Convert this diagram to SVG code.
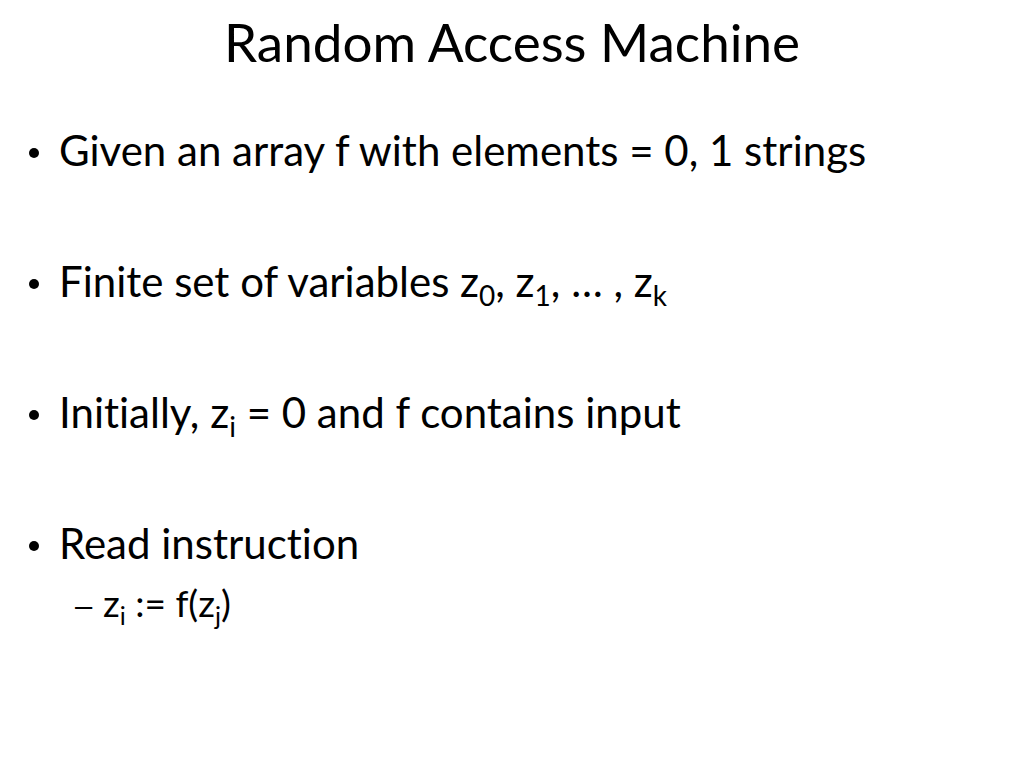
<svg xmlns="http://www.w3.org/2000/svg" width="1024" height="768" viewBox="0 0 1024 768">
<style>
text{font-family:Lato,"Liberation Sans",sans-serif;fill:#000;font-variant-ligatures:none}
.t{font-size:53px}
.b{font-size:42px}
.s{font-size:37px}
.sub{font-size:28px}
.ss{font-size:25px}
.d{font-family:"Liberation Sans",sans-serif;font-size:31px}
</style>
<rect width="1024" height="768" fill="#fff"/>
<g id="title"><text class="t" x="512" y="62" text-anchor="middle">Random Access Machine</text></g>
<g id="bullet1"><circle cx="34" cy="153" r="5"/><text class="b" x="59" y="166">Given an array f with elements = 0, 1 strings</text></g>
<g id="bullet2"><circle cx="34" cy="284" r="5"/><text class="b" x="59" y="297">Finite set of variables z<tspan class="sub" dy="9">0</tspan><tspan dy="-9">, z</tspan><tspan class="sub" dy="9">1</tspan><tspan dy="-9">, … , z</tspan><tspan class="sub" dy="9">k</tspan></text></g>
<g id="bullet3"><circle cx="34" cy="415" r="5"/><text class="b" x="59" y="428">Initially, z<tspan class="sub" dy="9">i</tspan><tspan dy="-9"> = 0 and f contains input</tspan></text></g>
<g id="bullet4"><circle cx="34" cy="546" r="5"/><text class="b" x="59" y="559">Read instruction</text></g>
<g id="sub1"><text class="d" x="75" y="616">–</text><text class="s" x="103" y="617">z<tspan class="ss" dy="8">i</tspan><tspan dy="-8"> := f(z</tspan><tspan class="ss" dy="8">j</tspan><tspan dy="-8">)</tspan></text></g>
</svg>
